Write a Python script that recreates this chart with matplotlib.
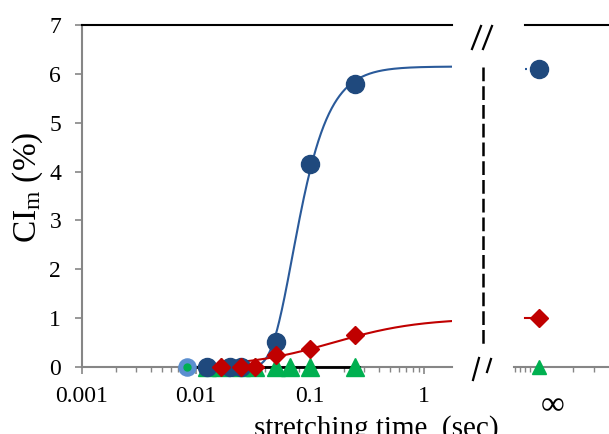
import numpy as np
import matplotlib
matplotlib.use("Agg")
import matplotlib.pyplot as plt
from matplotlib.lines import Line2D
from matplotlib.ticker import LogLocator, NullFormatter, FixedLocator, FixedFormatter

# ---------------- data ----------------
blue_t = [0.0125, 0.02, 0.025, 0.05, 0.1, 0.25]
blue_ci = [0.0, 0.0, 0.0, 0.51, 4.15, 5.79]
red_t = [0.0167, 0.025, 0.033, 0.05, 0.1, 0.25]
red_ci = [0.0, 0.0, 0.0, 0.25, 0.37, 0.65]
green_t = [0.0125, 0.0167, 0.025, 0.033, 0.05, 0.067, 0.1, 0.25]
green_ci = [0.0, 0.0, 0.0, 0.0, 0.0, 0.0, 0.0, 0.0]
first_t = [0.0083]
first_ci = [0.0]
inf_blue = 6.1
inf_red = 1.0
inf_green = 0.0

# fitted model parameters
blue_A, blue_c, blue_u0 = 6.15, 5.5, -1.155       # Gompertz in log10(t)
red_A, red_k, red_n = 1.0, 0.16, 1.15             # Hill in t

x_ticks = [0.001, 0.01, 0.1, 1]
x_ticklabels = ["0.001", "0.01", "0.1", "1"]
y_ticks = [0, 1, 2, 3, 4, 5, 6, 7]

# ---------------- style ----------------
W, H = 609, 434
plt.rcParams["font.family"] = ["Liberation Serif", "DejaVu Serif"]
plt.rcParams["mathtext.fontset"] = "custom"
plt.rcParams["mathtext.rm"] = "Liberation Serif"
plt.rcParams["mathtext.it"] = "Liberation Serif:italic"

BLUE = "#1f497d"
BLUE_LINE = "#2a5a9a"
LIGHT_BLUE = "#5b8fd0"
RED = "#c00000"
GREEN = "#00b050"
GREY = "#868686"

fig = plt.figure(figsize=(W / 100, H / 100), dpi=100)

def px(x0, y0, x1, y1):
    return [x0 / W, 1 - y1 / H, (x1 - x0) / W, (y1 - y0) / H]

ax = fig.add_axes(px(82, 25, 452, 367))
xmax = 10 ** (-3 + 370 / 114)
ax.set_xscale("log")
ax.set_xlim(0.001, xmax)
ax.set_ylim(0, 7)

# fitted curves
tb = np.logspace(np.log10(first_t[0]), np.log10(xmax), 400)
yb = blue_A * np.exp(-np.exp(-blue_c * (np.log10(tb) - blue_u0)))
ax.plot(tb, yb, color=BLUE_LINE, lw=1.5, zorder=3)
tr = np.logspace(np.log10(red_t[0]), np.log10(xmax), 400)
yr = red_A * tr ** red_n / (red_k ** red_n + tr ** red_n)
ax.plot(tr, yr, color=RED, lw=1.5, zorder=3)
ax.plot([first_t[0], green_t[-1] * 1.08], [0, 0], color="black", lw=2, zorder=3, clip_on=False)

ms_c, ms_d, ms_t = 13, 9.5, 12.5
ax.plot(first_t, first_ci, "o", ms=ms_c * 0.95, mfc=LIGHT_BLUE, mec=LIGHT_BLUE, zorder=4, clip_on=False)
ax.plot(first_t, first_ci, "o", ms=5, mfc=GREEN, mec=GREEN, zorder=4.5, clip_on=False)
ax.plot(green_t, green_ci, "^", ms=ms_t, mfc=GREEN, mec=GREEN, zorder=5, clip_on=False)
ax.plot(blue_t, blue_ci, "o", ms=ms_c, mfc=BLUE, mec=BLUE, zorder=6, clip_on=False)
ax.plot(red_t, red_ci, "D", ms=ms_d, mfc=RED, mec=RED, zorder=7, clip_on=False)

ax.spines["right"].set_visible(False)
ax.spines["top"].set_color("black")
ax.spines["top"].set_linewidth(1.5)
for s in ["left", "bottom"]:
    ax.spines[s].set_color(GREY)
    ax.spines[s].set_linewidth(1.5)
ax.set_xticks(x_ticks)
ax.set_xticklabels(x_ticklabels)
ax.xaxis.set_minor_locator(LogLocator(base=10, subs=np.arange(2, 10), numticks=20))
ax.xaxis.set_minor_formatter(NullFormatter())
ax.set_yticks(y_ticks)
ax.tick_params(axis="both", which="major", direction="out", length=5, width=1.2,
               color=GREY, labelsize=17, pad=7)
ax.tick_params(axis="x", which="minor", direction="out", length=3.5, width=1.0, color=GREY)
ax.tick_params(axis="y", pad=10)
ax.tick_params(axis="x", pad=9)

# ---------------- right (infinity) panel ----------------
ax2 = fig.add_axes(px(514, 25, 700, 367))
ax2.set_xlim(0, 1)
ax2.set_ylim(0, 7)
INF_POS = 0.134
ax2.plot([0.06, INF_POS], [inf_red, inf_red], color=RED, lw=1.5, zorder=3)
ax2.plot([0.06, 0.072], [inf_blue, inf_blue], ":", color=BLUE_LINE, lw=1.5, zorder=3)
ax2.plot([INF_POS], [inf_blue], "o", ms=ms_c, mfc=BLUE, mec=BLUE, zorder=6, clip_on=False)
ax2.plot([INF_POS], [inf_red], "D", ms=ms_d, mfc=RED, mec=RED, zorder=7, clip_on=False)
ax2.plot([INF_POS], [inf_green], "^", ms=ms_t * 0.85, mfc=GREEN, mec=GREEN, zorder=5, clip_on=False)
ax2.spines["left"].set_visible(False)
ax2.spines["right"].set_visible(False)
ax2.spines["top"].set_color("black")
ax2.spines["top"].set_linewidth(1.5)
ax2.spines["top"].set_bounds(0.059, 1)
ax2.spines["bottom"].set_color(GREY)
ax2.spines["bottom"].set_linewidth(1.5)
ax2.set_yticks([])
ax2.xaxis.set_major_locator(FixedLocator([0.21]))
ax2.xaxis.set_major_formatter(FixedFormatter(["∞"]))
ax2.xaxis.set_minor_locator(FixedLocator([0.005, 0.032, 0.059, 0.086, 0.317, 0.43]))
ax2.tick_params(axis="x", which="major", length=0, labelsize=24, pad=17)
ax2.tick_params(axis="x", which="minor", direction="out", length=3.5, width=1.0, color=GREY)

# ---------------- break marks ----------------
def fline(x0, y0, x1, y1, **kw):
    fig.add_artist(Line2D([x0 / W, x1 / W], [1 - y0 / H, 1 - y1 / H], **kw))

fline(472, 49, 481, 26, color="black", lw=1.6)
fline(483, 49, 492, 26, color="black", lw=1.6)
fline(473, 380, 479, 358, color="black", lw=1.6)
fline(487, 372, 491, 359, color="black", lw=1.6)
fline(483, 67, 483, 348, color="black", lw=1.8, linestyle=(0, (5.5, 2)))

# ---------------- labels ----------------
fig.text(376 / W, 1 - 436 / H, "stretching time  (sec)", fontsize=21,
         ha="center", va="baseline")
fig.text(28 / W, 1 - 187 / H, r"CI$_\mathrm{m}$ (%)", fontsize=24, rotation=90,
         ha="center", va="center")

fig.savefig("out.png", dpi=100)
